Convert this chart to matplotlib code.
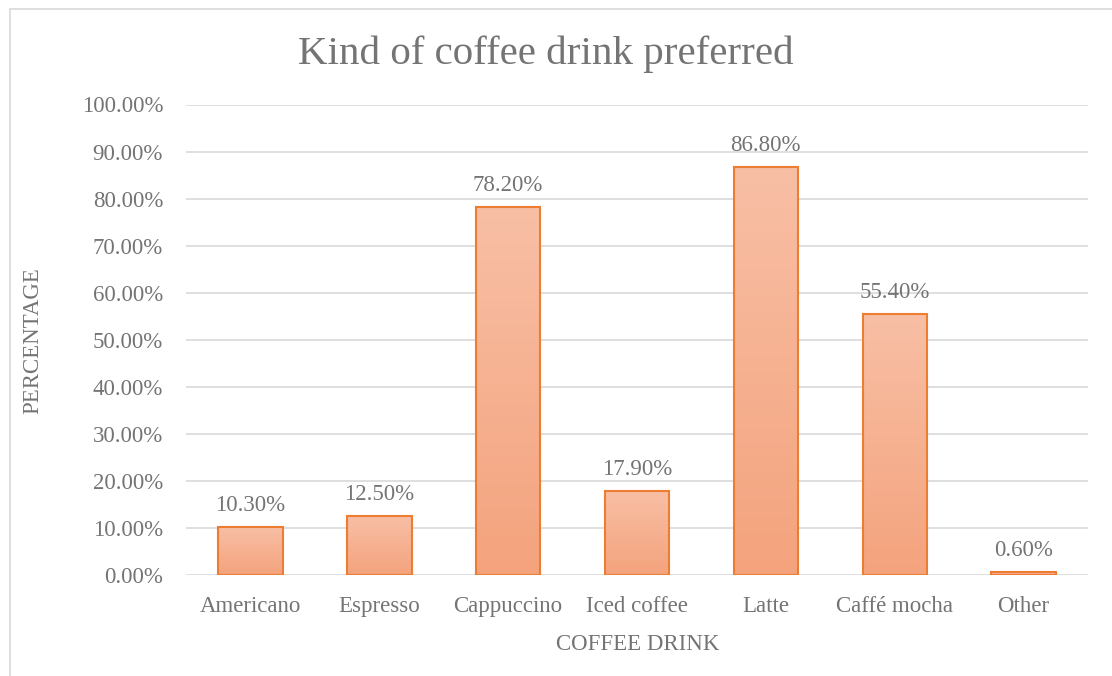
import numpy as np
import matplotlib
matplotlib.use("Agg")
import matplotlib.pyplot as plt
from matplotlib.patches import Rectangle
from matplotlib.colors import LinearSegmentedColormap

drinks = ["Americano", "Espresso", "Cappuccino", "Iced coffee", "Latte", "Caffé mocha", "Other"]
shares = [10.3, 12.5, 78.2, 17.9, 86.8, 55.4, 0.6]
y_ticks = [0, 10, 20, 30, 40, 50, 60, 70, 80, 90, 100]

W, H = 1112, 676
TEXT = "#747474"
GRID = "#D9D9D9"

plt.rcParams["font.family"] = ["Liberation Serif", "DejaVu Serif"]

fig = plt.figure(figsize=(W / 100, H / 100), dpi=100)
ax = fig.add_axes([186 / W, (H - 575) / H, 902 / W, (575 - 104.5) / H])

# outer chart frame (runs off the right and bottom edges)
fig.patches.append(Rectangle((10 / W, -0.1), 1.2, (H - 9) / H + 0.1,
                             transform=fig.transFigure, fill=False,
                             edgecolor=GRID, linewidth=1.2))

grad = LinearSegmentedColormap.from_list("bar", ["#F4A37D", "#F8BFA5"])
ramp = np.linspace(0, 1, 256).reshape(-1, 1)
width = 0.5
for i, v in enumerate(shares):
    ax.imshow(ramp, cmap=grad, origin="lower", aspect="auto",
              extent=(i - width / 2, i + width / 2, 0, v), zorder=2)
bars = ax.bar(range(len(drinks)), shares, width=width, facecolor="none",
              edgecolor="#ED7D31", linewidth=1.5, zorder=3)

for i, v in enumerate(shares):
    ax.annotate(f"{v:.2f}%", (i, v), xytext=(0, 15.5), textcoords="offset points",
                ha="center", va="center", fontsize=16.5, color=TEXT)

ax.set_xlim(-0.5, len(drinks) - 0.5)
ax.set_ylim(0, 100)
ax.set_yticks(y_ticks)
ax.set_yticklabels([f"{t:.2f}%" for t in y_ticks])
ax.set_xticks(range(len(drinks)))
ax.set_xticklabels(drinks)
ax.tick_params(length=0, labelsize=16.5, labelcolor=TEXT)
ax.tick_params(axis="y", pad=16.5)
ax.tick_params(axis="x", pad=15)
ax.grid(axis="y", color=GRID, linewidth=1.2, zorder=0)
ax.set_axisbelow(True)
for s in ax.spines.values():
    s.set_visible(False)

fig.text(546 / W, 1 - 54 / H, "Kind of coffee drink preferred", ha="center", va="center",
         fontsize=29.5, color=TEXT)
fig.text(33 / W, 1 - 341 / H, "PERCENTAGE", rotation=90, ha="center", va="center",
         fontsize=16.5, color=TEXT)
fig.text(638 / W, 1 - 645 / H, "COFFEE DRINK", ha="center", va="center",
         fontsize=16.5, color=TEXT)

fig.savefig("out.png", dpi=100, facecolor="white")
